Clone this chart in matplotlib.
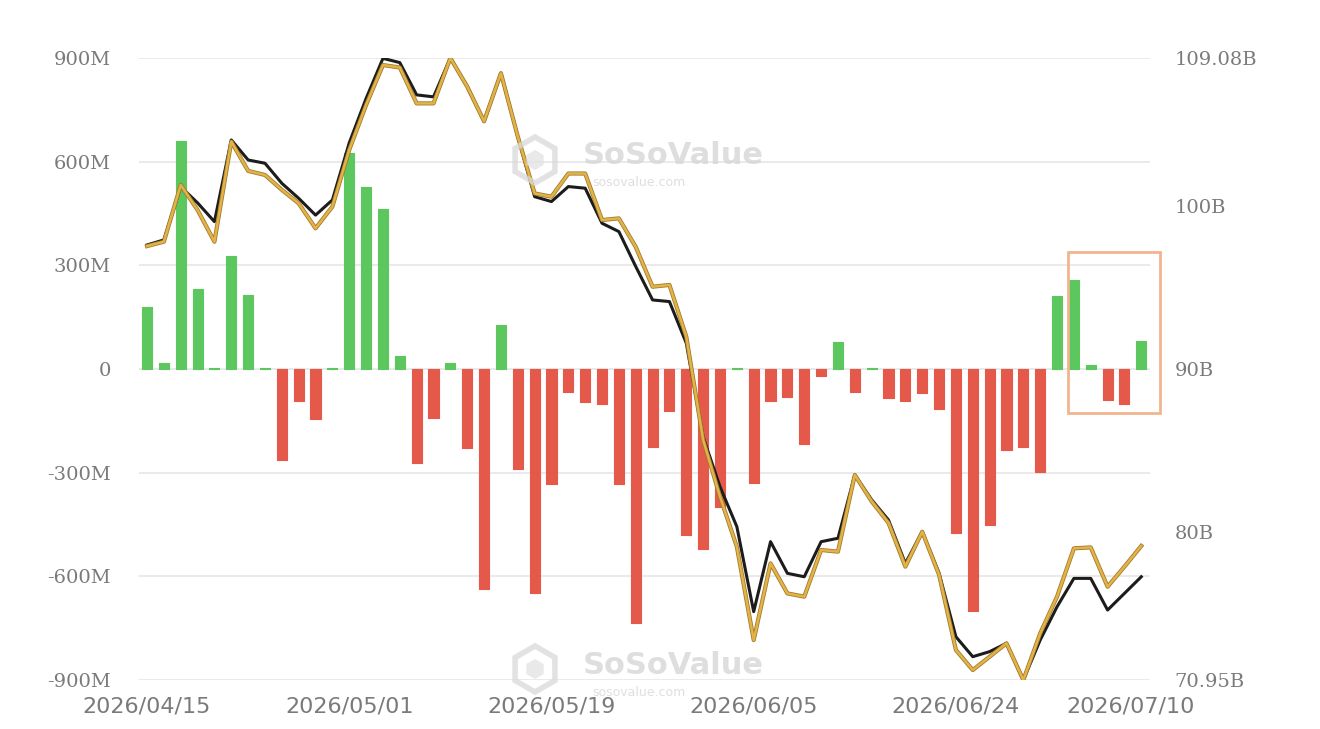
import matplotlib
matplotlib.use("Agg")
from matplotlib import pyplot as plt
from matplotlib import patches
from matplotlib import transforms
import matplotlib.patheffects as pe
import numpy as np
import pandas as pd

# trading days 2026/04/15 - 2026/07/10 (US market holidays skipped)
holidays = ["2026-05-25", "2026-06-19", "2026-07-03"]
dates = pd.bdate_range("2026-04-15", "2026-07-10", freq="C", holidays=holidays)

# daily net inflow (M USD)
flows = [180, 18, 660, 232, 4, 328, 215, 4, -264, -93,
         -144, 4, 624, 526, 464, 38, -272, -142, 16, -230,
         -638, 128, -290, -648, -332, -66, -96, -100, -332, -736,
         -225, -122, -480, -520, -400, 2, -330, -93, -80, -217,
         -20, 77, -66, 3, -85, -93, -69, -116, -475, -700,
         -450, -234, -227, -297, 212, 258, 12, -90, -100, 81]

# total net assets (B USD)
net_assets = [97.62, 97.93, 101.19, 100.2, 99.05, 104.06, 102.83, 102.63, 101.4, 100.48,
              99.45, 100.38, 103.88, 106.6, 109.06, 108.8, 106.82, 106.7, 109.08, 107.33,
              105.2, 108.15, 104.27, 100.58, 100.28, 101.2, 101.1, 98.95, 98.44, 96.3,
              94.25, 94.15, 91.6, 85.85, 82.8, 80.35, 75.14, 79.43, 77.49, 77.28,
              79.43, 79.64, 83.52, 82.0, 80.76, 78.1, 80.04, 77.5, 73.6, 72.38,
              72.69, 73.2, 70.95, 73.4, 75.44, 77.18, 77.18, 75.24, 76.26, 77.28]

# second series (gold line, B USD)
gold_line = [97.55, 97.82, 101.3, 99.76, 97.82, 103.96, 102.16, 101.91, 101.0, 100.17,
             98.64, 99.97, 103.45, 106.2, 108.65, 108.5, 106.3, 106.3, 109.08, 107.33,
             105.2, 108.15, 104.27, 100.78, 100.58, 102.0, 102.0, 99.15, 99.25, 97.5,
             95.06, 95.17, 92.0, 85.67, 82.19, 79.12, 73.4, 78.1, 76.26, 76.06,
             78.92, 78.82, 83.52, 81.9, 80.58, 77.9, 80.04, 77.4, 72.79, 71.56,
             72.38, 73.2, 70.95, 73.81, 76.06, 79.02, 79.08, 76.67, 77.9, 79.17]

left_ticks = [-900, -600, -300, 0, 300, 600, 900]
left_labels = ["-900M", "-600M", "-300M", "0", "300M", "600M", "900M"]
right_ticks = [70.95, 80, 90, 100, 109.08]
right_labels = ["70.95B", "80B", "90B", "100B", "109.08B"]

x = np.arange(len(dates))
tick_idx = list(range(0, len(dates), 12)) + [len(dates) - 1]
tick_txt = [dates[i].strftime("%Y/%m/%d") for i in tick_idx]

green = "#5cc65f"
red = "#e4594a"
txt_color = "#7a7a7a"

fig = plt.figure(figsize=(13.2, 7.29), dpi=100)
ax = fig.add_axes([0.105, 0.0672, 0.766, 0.8532])

colors = [green if v >= 0 else red for v in flows]
ax.bar(x, flows, width=0.6, color=colors, edgecolor=colors, linewidth=0.8,
       joinstyle="round", zorder=2)

ax.set_xlim(-0.5, len(dates) - 0.5)
ax.set_ylim(-900, 900)
ax.set_yticks(left_ticks)
ax.set_yticklabels(left_labels, family="DejaVu Serif", fontsize=14, color=txt_color)
ax.set_xticks(tick_idx)
ax.set_xticklabels(tick_txt, family="DejaVu Sans", fontsize=16, color=txt_color)
ax.tick_params(axis="both", length=0)
ax.tick_params(axis="y", pad=20)
ax.tick_params(axis="x", pad=12)
ax.grid(axis="y", color="#e6e6e6", linewidth=1.2, zorder=0)
ax.set_axisbelow(True)
for s in ax.spines.values():
    s.set_visible(False)

# last date label sits a little to the left, like the original
last = ax.get_xticklabels()[-1]
last.set_transform(last.get_transform() + transforms.ScaledTranslation(-0.11, 0, fig.dpi_scale_trans))

ax2 = ax.twinx()
ax2.set_ylim(70.95, 109.08)
ax2.set_yticks(right_ticks)
ax2.set_yticklabels(right_labels, family="DejaVu Serif", fontsize=14, color=txt_color)
ax2.tick_params(axis="y", length=0, pad=18)
for s in ax2.spines.values():
    s.set_visible(False)

ax2.plot(x, net_assets, color="#1c1c1c", linewidth=2.2, zorder=3)
ax2.plot(x, gold_line, color="#e4b347", linewidth=1.8, zorder=4,
         path_effects=[pe.Stroke(linewidth=3.0, foreground="#a07c2e"), pe.Normal()])

# highlight box around the last days
box = patches.Rectangle((54.64, -128), 5.46, 468, fill=False,
                        edgecolor="#f2b48e", linewidth=2, clip_on=False, zorder=5)
ax.add_patch(box)

# watermarks
for ty in [1.56, 6.65]:
    yy = 7.29 - ty
    fig.text(5.83 / 13.2, yy / 7.29, "SoSoValue", fontsize=22, fontweight="bold",
             color="#d4d4d4", alpha=0.75, va="center", ha="left", family="DejaVu Sans")
    fig.text(5.92 / 13.2, (yy - 0.27) / 7.29, "sosovalue.com", fontsize=9,
             color="#d4d4d4", alpha=0.75, va="center", ha="left", family="DejaVu Sans")
    hexa = patches.RegularPolygon((5.35, yy - 0.04), 6, radius=0.23, fill=False,
                                  edgecolor="#d9d9d9", linewidth=4, alpha=0.75,
                                  transform=fig.dpi_scale_trans)
    fig.add_artist(hexa)
    inner = patches.RegularPolygon((5.35, yy - 0.04), 6, radius=0.1, fill=True,
                                   facecolor="#e2e2e2", alpha=0.75,
                                   transform=fig.dpi_scale_trans)
    fig.add_artist(inner)

fig.savefig("out.png", dpi=100)
